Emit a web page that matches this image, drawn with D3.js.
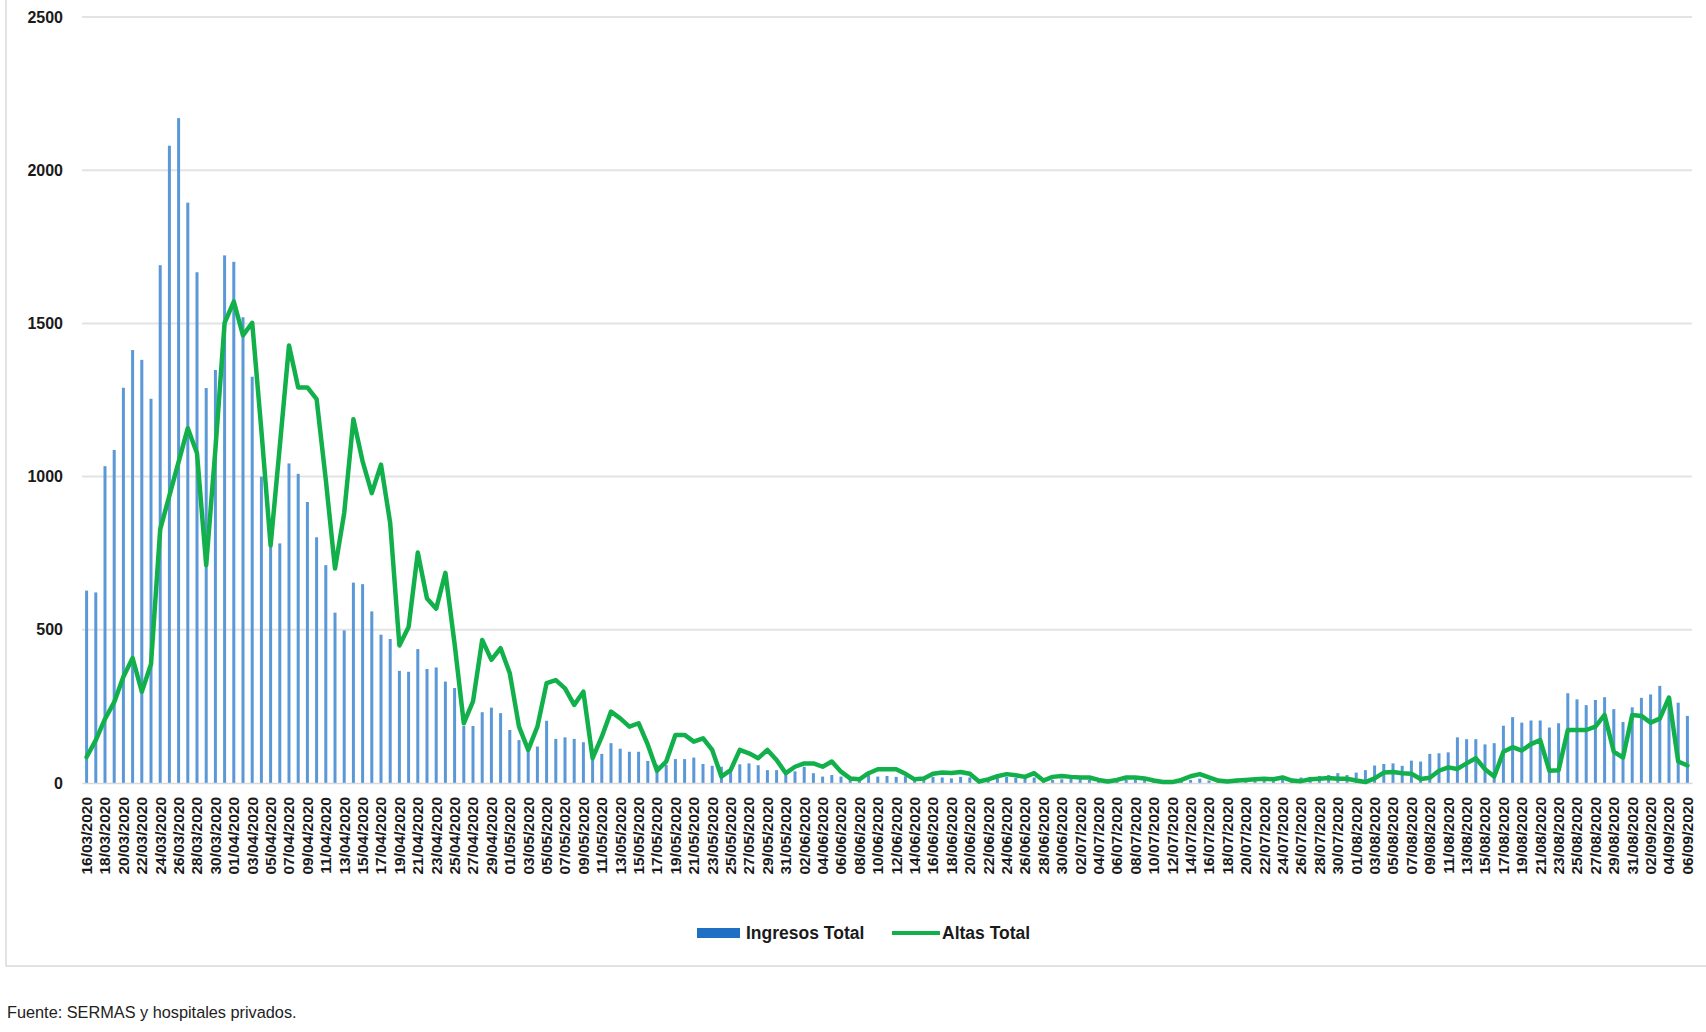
<!DOCTYPE html>
<html>
<head>
<meta charset="utf-8">
<script src="https://cdn.jsdelivr.net/npm/d3@7"></script>
<style>
  html, body { margin: 0; padding: 0; background: #ffffff; }
  svg { display: block; }
</style>
</head>
<body>
<svg id="chart" width="1706" height="1032"></svg>
<script>
// ---------- DATA ----------
const startDate = "2020-03-16";
const endDate = "2020-09-06";   // inclusive

const yTicks = [0, 500, 1000, 1500, 2000, 2500];

const seriesNames = ["Ingresos Total", "Altas Total"];

const ingresos = [
  628, 622, 1034, 1087, 1290, 1413, 1381, 1254, 1690, 2080,
  2170, 1894, 1667, 1289, 1348, 1722, 1701, 1520, 1326, 1000,
  771, 782, 1043, 1009, 917, 802, 711, 556, 498, 654,
  649, 560, 484, 470, 366, 363, 437, 372, 377, 331,
  310, 186, 186, 231, 246, 228, 173, 140, 119, 119,
  203, 144, 149, 144, 133, 95, 95, 130, 112, 102,
  102, 72, 60, 59, 78, 78, 83, 62, 56, 53,
  40, 61, 64, 58, 42, 42, 32, 38, 53, 32,
  21, 26, 21, 15, 10, 26, 21, 23, 20, 22,
  18, 15, 20, 18, 15, 20, 18, 12, 15, 18,
  20, 17, 15, 18, 14, 10, 12, 14, 12, 10,
  8, 10, 12, 10, 12, 10, 8, 8, 6, 8,
  10, 14, 8, 6, 8, 10, 12, 10, 12, 14,
  16, 14, 18, 20, 23, 26, 32, 26, 34, 42,
  57, 62, 64, 56, 73, 70, 95, 97, 100, 149,
  143, 143, 126, 130, 187, 215, 197, 204, 204, 181,
  195, 293, 273, 254, 271, 280, 241, 199, 247, 278,
  289, 317, 282, 262, 219
];

const altas = [
  85, 140, 209, 264, 347, 408, 298, 388, 828, 938,
  1048, 1158, 1076, 711, 1089, 1502, 1571, 1461, 1502, 1150,
  775, 1099, 1428, 1291, 1291, 1253, 990, 700, 881, 1187,
  1050, 946, 1039, 848, 449, 509, 752, 602, 569, 686,
  454, 195, 266, 467, 402, 440, 358, 184, 108, 184,
  326, 336, 309, 255, 298, 81, 151, 233, 211, 184,
  195, 125, 40, 70, 157, 157, 135, 146, 108, 21,
  42, 108, 97, 81, 108, 75, 32, 53, 64, 64,
  53, 70, 37, 15, 12, 32, 45, 45, 45, 30,
  12, 15, 30, 34, 33, 36, 30, 5, 12, 22,
  29, 25, 20, 32, 8, 20, 23, 20, 18, 18,
  10, 5, 10, 18, 18, 15, 8, 3, 3, 10,
  22, 29, 18, 8, 5, 8, 10, 12, 14, 12,
  18, 8, 6, 12, 14, 16, 14, 14, 8, 3,
  15, 34, 36, 32, 30, 13, 17, 40, 51, 46,
  64, 81, 45, 21, 102, 117, 106, 127, 140, 40,
  42, 173, 173, 173, 184, 222, 102, 83, 222, 219,
  197, 210, 279, 70, 57
];

const sourceNote = "Fuente: SERMAS y hospitales privados.";

// ---------- CATEGORIES ----------
const parse = d3.utcParse("%Y-%m-%d");
const fmt = d3.utcFormat("%d/%m/%Y");
const categories = d3.utcDay.range(parse(startDate), d3.utcDay.offset(parse(endDate), 1)).map(fmt);
const tickLabels = categories.filter((d, i) => i % 2 === 0);

// ---------- LAYOUT ----------
const svg = d3.select("#chart");
const W = 1706, H = 1032;
const plot = { left: 82, right: 1692, top: 17, bottom: 783 };
const fontFamily = "'Liberation Sans', Arial, sans-serif";

// frame
svg.append("rect")
  .attr("x", 6).attr("y", -4)
  .attr("width", W + 10).attr("height", 970)
  .attr("fill", "none").attr("stroke", "#d9d9d9").attr("stroke-width", 1.5);

const x = d3.scaleBand().domain(categories).range([plot.left, plot.right]).padding(0);
const y = d3.scaleLinear().domain([0, 2500]).range([plot.bottom, plot.top]);

// gridlines
svg.append("g").selectAll("line")
  .data(yTicks.filter(d => d > 0))
  .join("line")
  .attr("x1", plot.left).attr("x2", plot.right)
  .attr("y1", d => y(d)).attr("y2", d => y(d))
  .attr("stroke", "#e3e3e3").attr("stroke-width", 2);

// y labels
const yAxis = svg.append("g")
  .attr("transform", `translate(63,0)`)
  .call(d3.axisLeft(y).tickValues(yTicks).tickFormat(d3.format("d")).tickSize(0).tickPadding(0));
yAxis.select(".domain").remove();
yAxis.selectAll("text")
  .attr("font-family", fontFamily).attr("font-size", 16).attr("font-weight", "bold")
  .attr("fill", "#1a1a1a");

// bars
const barW = 3;
svg.append("g").selectAll("rect")
  .data(ingresos)
  .join("rect")
  .attr("x", (d, i) => x(categories[i]) + x.bandwidth() / 2 - barW / 2)
  .attr("width", barW)
  .attr("y", d => y(d))
  .attr("height", d => y(0) - y(d))
  .attr("fill", "#5a98d8");

// x axis
const xAxis = svg.append("g")
  .attr("transform", `translate(0,${plot.bottom})`)
  .call(d3.axisBottom(x).tickValues(tickLabels).tickSize(0).tickPadding(0));
xAxis.select(".domain").attr("stroke", "#d9d9d9").attr("stroke-width", 1.5);
xAxis.selectAll("text")
  .attr("font-family", fontFamily).attr("font-size", 15.5).attr("font-weight", "bold")
  .attr("fill", "#1a1a1a")
  .attr("text-anchor", "end")
  .attr("transform", "rotate(-90)")
  .attr("x", -14).attr("y", 0).attr("dy", "0.35em");

// line
const line = d3.line()
  .x((d, i) => x(categories[i]) + x.bandwidth() / 2)
  .y(d => y(d));
svg.append("path")
  .datum(altas)
  .attr("d", line)
  .attr("fill", "none")
  .attr("stroke", "#12b04b")
  .attr("stroke-width", 4.5)
  .attr("stroke-linejoin", "round")
  .attr("stroke-linecap", "round");

// legend
const lg = svg.append("g").attr("font-family", fontFamily).attr("font-size", 17.5).attr("font-weight", "bold").attr("fill", "#1a1a1a");
lg.append("rect").attr("x", 697).attr("y", 928).attr("width", 43).attr("height", 10).attr("fill", "#1f6fc5");
lg.append("text").attr("x", 746).attr("y", 933).attr("dy", "0.35em").text(seriesNames[0]);
lg.append("line").attr("x1", 892).attr("x2", 940).attr("y1", 933).attr("y2", 933)
  .attr("stroke", "#12b04b").attr("stroke-width", 4);
lg.append("text").attr("x", 942).attr("y", 933).attr("dy", "0.35em").text(seriesNames[1]);

// source
svg.append("text")
  .attr("x", 7).attr("y", 1012).attr("dy", "0.35em")
  .attr("font-family", fontFamily).attr("font-size", 16.3).attr("fill", "#222")
  .text(sourceNote);
</script>
</body>
</html>
